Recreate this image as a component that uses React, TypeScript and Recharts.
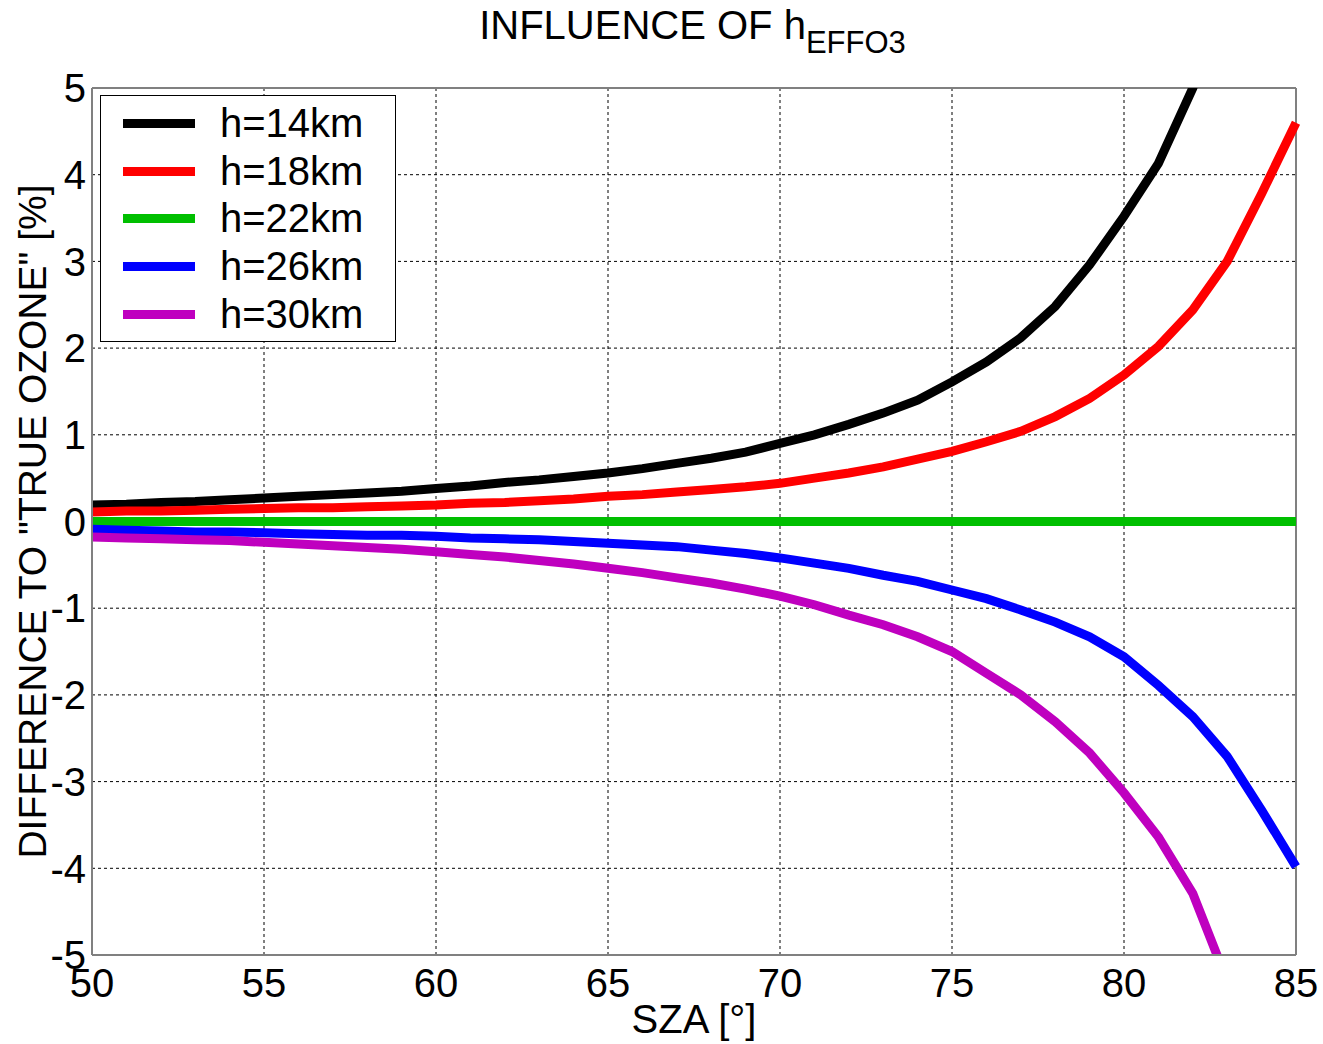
import React from "react";
import {
  LineChart,
  Line,
  XAxis,
  YAxis,
  CartesianGrid,
  ReferenceLine,
  Label,
} from "recharts";

// SZA in degrees, 1-degree steps
const sza = [
  50, 51, 52, 53, 54, 55, 56, 57, 58, 59, 60, 61, 62, 63, 64, 65, 66, 67, 68,
  69, 70, 71, 72, 73, 74, 75, 76, 77, 78, 79, 80, 81, 82, 83, 84, 85,
];

// difference to "true ozone" [%] for each effective ozone height
const h14 = [
  0.19, 0.2, 0.22, 0.23, 0.25, 0.27, 0.29, 0.31, 0.33, 0.35, 0.38, 0.41, 0.45,
  0.48, 0.52, 0.56, 0.61, 0.67, 0.73, 0.8, 0.9, 1.0, 1.12, 1.25, 1.4, 1.61,
  1.84, 2.12, 2.48, 2.96, 3.52, 4.13, 5.0, 6.2, 7.8, 10.2,
];
const h18 = [
  0.11, 0.12, 0.12, 0.13, 0.14, 0.15, 0.16, 0.16, 0.17, 0.18, 0.19, 0.21, 0.22,
  0.24, 0.26, 0.29, 0.31, 0.34, 0.37, 0.4, 0.44, 0.5, 0.56, 0.63, 0.72, 0.81,
  0.92, 1.04, 1.21, 1.42, 1.69, 2.02, 2.44, 3.0, 3.78, 4.6,
];
const h22 = [
  0, 0, 0, 0, 0, 0, 0, 0, 0, 0, 0, 0, 0, 0, 0, 0, 0, 0, 0, 0, 0, 0, 0, 0, 0, 0,
  0, 0, 0, 0, 0, 0, 0, 0, 0, 0,
];
const h26 = [
  -0.09, -0.1, -0.11, -0.12, -0.12, -0.13, -0.14, -0.15, -0.16, -0.16, -0.17,
  -0.19, -0.2, -0.21, -0.23, -0.25, -0.27, -0.29, -0.33, -0.37, -0.42, -0.48,
  -0.54, -0.62, -0.69, -0.79, -0.89, -1.02, -1.16, -1.33, -1.56, -1.89, -2.25,
  -2.71, -3.33, -3.98,
];
const h30 = [
  -0.18, -0.19, -0.2, -0.21, -0.22, -0.24, -0.26, -0.28, -0.3, -0.32, -0.35,
  -0.38, -0.41, -0.45, -0.49, -0.54, -0.59, -0.65, -0.71, -0.78, -0.86, -0.96,
  -1.08, -1.19, -1.33, -1.5, -1.75, -2.0, -2.31, -2.67, -3.13, -3.64, -4.29,
  -5.3, -6.6, -8.5,
];

const xTicks = [50, 55, 60, 65, 70, 75, 80, 85];
const yTicks = [-5, -4, -3, -2, -1, 0, 1, 2, 3, 4, 5];

const series = [
  { key: "h14", name: "h=14km", color: "#000000", values: h14 },
  { key: "h18", name: "h=18km", color: "#ff0000", values: h18 },
  { key: "h22", name: "h=22km", color: "#00bf00", values: h22 },
  { key: "h26", name: "h=26km", color: "#0000ff", values: h26 },
  { key: "h30", name: "h=30km", color: "#bf00bf", values: h30 },
];

const data = sza.map((x, i) => {
  const row: Record<string, number> = { sza: x };
  series.forEach((s) => {
    row[s.key] = s.values[i];
  });
  return row;
});

const FONT = "'Liberation Sans', Arial, sans-serif";

const LegendBox = () => (
  <div
    style={{
      position: "absolute",
      left: 100,
      top: 95,
      border: "1px solid #000",
      background: "#fff",
      width: 296,
      height: 247,
      boxSizing: "border-box",
      paddingTop: 4,
    }}
  >
    {series.map((s) => (
      <div
        key={s.key}
        style={{ display: "flex", alignItems: "center", height: 47.6 }}
      >
        <div
          style={{
            marginLeft: 22,
            width: 72,
            height: 9,
            background: s.color,
          }}
        />
        <span
          style={{
            marginLeft: 25,
            fontFamily: FONT,
            fontSize: 40,
            color: "#000",
          }}
        >
          {s.name}
        </span>
      </div>
    ))}
  </div>
);

export default function App() {
  return (
    <div
      style={{
        position: "absolute",
        left: 0,
        top: 0,
        width: 1323,
        height: 1044,
        background: "#fff",
      }}
    >
      <LineChart
        width={1323}
        height={1044}
        data={data}
        margin={{ top: 88, right: 27, left: 32, bottom: 49 }}
        style={{ position: "absolute", left: 0, top: 0 }}
      >
        <CartesianGrid
          stroke="#000"
          strokeDasharray="3 3"
          strokeWidth={1}
          vertical
          horizontal
        />
        <XAxis
          dataKey="sza"
          type="number"
          domain={[50, 85]}
          ticks={xTicks}
          height={40}
          tickLine={false}
          axisLine={{ stroke: "#808080", strokeWidth: 2 }}
          tick={{ fontSize: 40, fill: "#000", fontFamily: FONT, dy: 6 }}
          interval={0}
        >
          <Label
            value="SZA [°]"
            position="insideBottom"
            offset={-38}
            style={{ fontSize: 40, fill: "#000", fontFamily: FONT }}
          />
        </XAxis>
        <YAxis
          type="number"
          domain={[-5, 5]}
          ticks={yTicks}
          allowDataOverflow
          width={60}
          tickLine={false}
          axisLine={{ stroke: "#808080", strokeWidth: 2 }}
          tick={{ fontSize: 40, fill: "#000", fontFamily: FONT, dx: 2 }}
          interval={0}
        >
          <Label
            value={'DIFFERENCE TO "TRUE OZONE" [%]'}
            angle={-90}
            position="insideLeft"
            offset={0}
            style={{
              fontSize: 39,
              fill: "#000",
              fontFamily: FONT,
              textAnchor: "middle",
            }}
          />
        </YAxis>
        <ReferenceLine x={85} stroke="#808080" strokeWidth={2} />
        <ReferenceLine y={5} stroke="#808080" strokeWidth={2} />
        {series.map((s) => (
          <Line
            key={s.key}
            type="linear"
            dataKey={s.key}
            name={s.name}
            stroke={s.color}
            strokeWidth={9}
            dot={false}
            activeDot={false}
            isAnimationActive={false}
          />
        ))}
      </LineChart>
      <div
        style={{
          position: "absolute",
          left: 0,
          width: 1323,
          top: 2,
          textAlign: "center",
          fontFamily: FONT,
          fontSize: 40,
          lineHeight: "46px",
          paddingLeft: 62,
          boxSizing: "border-box",
        }}
      >
        INFLUENCE OF h
        <span style={{ fontSize: 31, position: "relative", top: 14 }}>
          EFFO3
        </span>
      </div>
      <LegendBox />
    </div>
  );
}
